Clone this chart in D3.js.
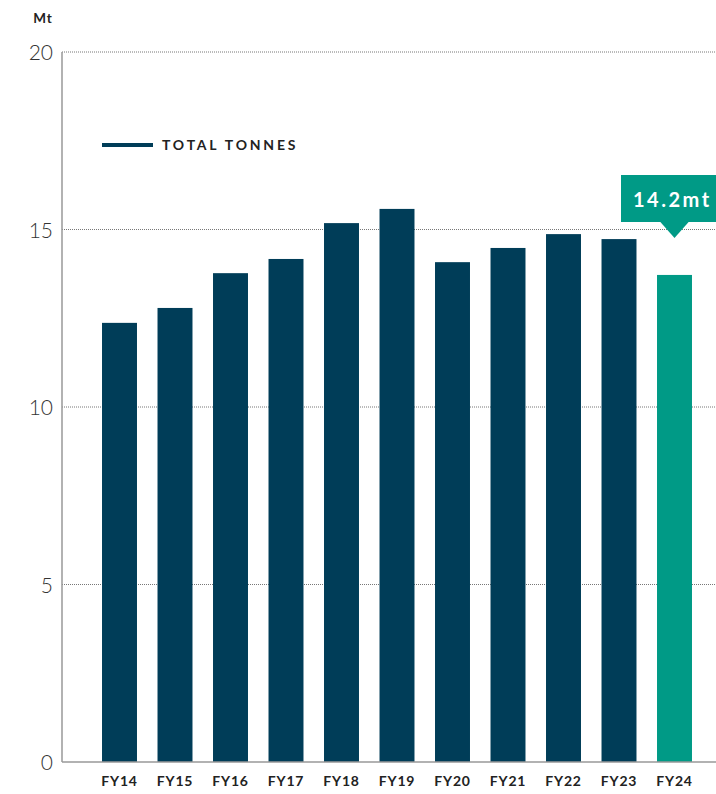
<!DOCTYPE html>
<html lang="en">
<head>
  <meta charset="utf-8">
  <title>Total tonnes</title>
  <style>
    body { margin: 0; background: #fff; }
    #chart text { font-family: Lato, "Open Sans", sans-serif; }
    .tick-y { font-size: 21px; font-weight: 300; fill: #333; text-anchor: end; }
    .tick-x { font-size: 14px; font-weight: 700; fill: #222; text-anchor: middle; letter-spacing: 0.8px; }
  </style>
</head>
<body>
<div id="chart"></div>
<script src="https://d3js.org/d3.v7.min.js"></script>
<script>
  const years = ["FY14", "FY15", "FY16", "FY17", "FY18", "FY19", "FY20", "FY21", "FY22", "FY23", "FY24"];
  const tonnes = [12.37, 12.79, 13.77, 14.17, 15.18, 15.58, 14.08, 14.48, 14.87, 14.73, 13.72];
  const yTicks = [0, 5, 10, 15, 20];
  const unitLabel = "Mt";
  const legendLabel = "TOTAL TONNES";
  const calloutLabel = "14.2mt";

  const chartWidth = 716, chartHeight = 794;
  const axisX = 62, plotTop = 52, plotBottom = 762;
  const dark = "#003d58", teal = "#009a86";

  const svg = d3.select("#chart").append("svg")
    .attr("width", chartWidth)
    .attr("height", chartHeight);

  const x = d3.scaleBand()
    .domain(years)
    .range([91.75, 702.25])
    .paddingInner(0.37)
    .paddingOuter(0.185);

  const y = d3.scaleLinear()
    .domain([0, 20])
    .range([plotBottom, plotTop]);

  // dotted gridlines
  svg.append("g")
    .selectAll("line")
    .data(yTicks.filter(d => d > 0))
    .join("line")
    .attr("x1", axisX)
    .attr("x2", chartWidth)
    .attr("y1", d => y(d))
    .attr("y2", d => y(d))
    .attr("stroke", "#777")
    .attr("stroke-width", 1)
    .attr("stroke-dasharray", "1,1");

  // bars
  svg.append("g")
    .selectAll("rect")
    .data(years)
    .join("rect")
    .attr("x", d => x(d))
    .attr("width", x.bandwidth())
    .attr("y", (d, i) => y(tonnes[i]))
    .attr("height", (d, i) => y(0) - y(tonnes[i]))
    .attr("fill", (d, i) => i === years.length - 1 ? teal : dark);

  // axis lines
  svg.append("line")
    .attr("x1", axisX).attr("x2", axisX)
    .attr("y1", plotTop).attr("y2", plotBottom)
    .attr("stroke", "#999").attr("stroke-width", 1.5);
  svg.append("line")
    .attr("x1", axisX).attr("x2", chartWidth)
    .attr("y1", plotBottom).attr("y2", plotBottom)
    .attr("stroke", "#999").attr("stroke-width", 1.5);

  // y tick labels
  svg.append("g")
    .selectAll("text")
    .data(yTicks)
    .join("text")
    .attr("class", "tick-y")
    .attr("x", 53)
    .attr("y", d => y(d) + 8)
    .text(d => d);

  svg.append("text")
    .attr("x", 43)
    .attr("y", 23)
    .attr("text-anchor", "middle")
    .attr("font-size", 13.5)
    .attr("font-weight", 700)
    .attr("letter-spacing", 1)
    .attr("fill", "#222")
    .text(unitLabel);

  // x tick labels
  svg.append("g")
    .selectAll("text")
    .data(years)
    .join("text")
    .attr("class", "tick-x")
    .attr("x", d => x(d) + x.bandwidth() / 2)
    .attr("y", 786)
    .text(d => d);

  // legend
  svg.append("line")
    .attr("x1", 102).attr("x2", 153)
    .attr("y1", 145).attr("y2", 145)
    .attr("stroke", dark).attr("stroke-width", 4);
  svg.append("text")
    .attr("x", 162)
    .attr("y", 150)
    .attr("font-size", 14)
    .attr("font-weight", 700)
    .attr("letter-spacing", 2.8)
    .attr("fill", "#222")
    .text(legendLabel);

  // callout over last bar
  const lastX = x(years[years.length - 1]) + x.bandwidth() / 2;
  const callout = svg.append("g");
  callout.append("rect")
    .attr("x", 621).attr("y", 175)
    .attr("width", 110).attr("height", 47)
    .attr("fill", teal);
  callout.append("path")
    .attr("d", `M${lastX - 15},221 L${lastX + 15},221 L${lastX},238 Z`)
    .attr("fill", teal);
  callout.append("text")
    .attr("x", 633)
    .attr("y", 207)
    .attr("font-size", 20)
    .attr("font-weight", 700)
    .attr("letter-spacing", 2.5)
    .attr("fill", "#fff")
    .text(calloutLabel);
</script>
</body>
</html>
